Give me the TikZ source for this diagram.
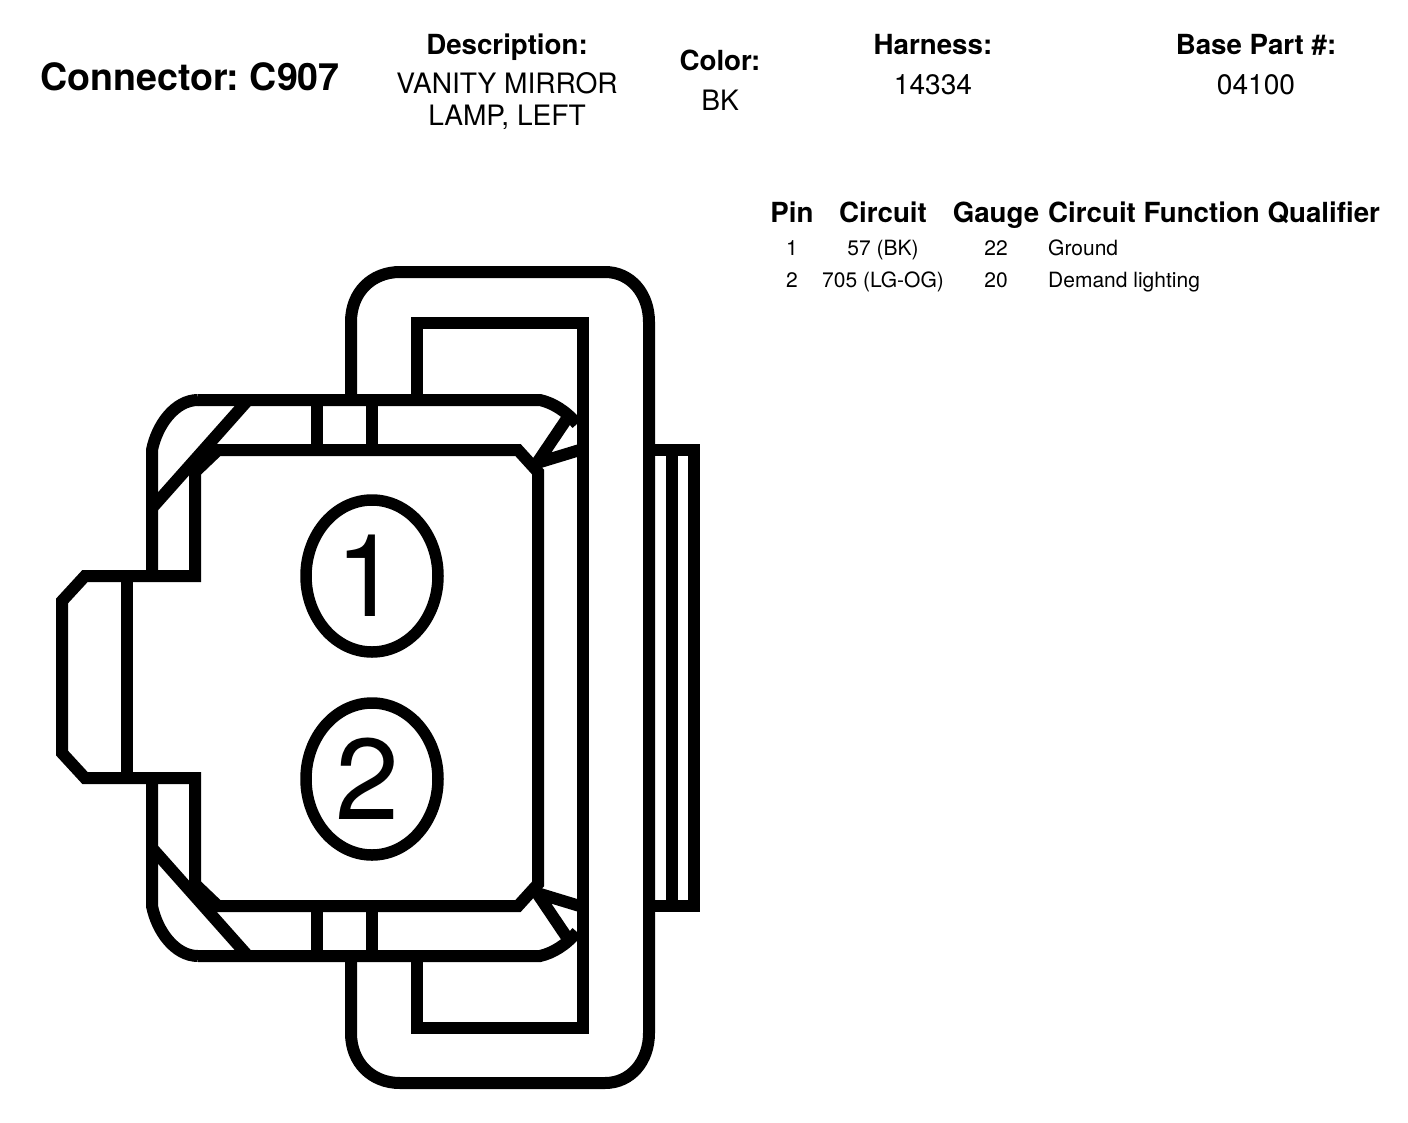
\documentclass[tikz,border=0pt]{standalone}
\usepackage{fontspec}
\setmainfont{TeX Gyre Heros}
\frenchspacing
\tikzset{
    outline/.style={line width=12pt, line join=miter},
    pinmark/.style={draw, line width=11.5pt, ellipse, minimum width=132pt, minimum height=152pt, inner sep=0pt, font=\fontsize{115}{115}\selectfont},
    title/.style={anchor=base, font=\bfseries\fontsize{37.6}{37.6}\selectfont},
    head/.style={anchor=base, font=\bfseries\fontsize{27.7}{27.7}\selectfont},
    info/.style={font=\fontsize{28.1}{32}\selectfont, align=center},
    cell/.style={anchor=base, font=\fontsize{21}{21}\selectfont},
}
\usetikzlibrary{shapes.geometric}
\begin{document}
\begin{tikzpicture}[x=1pt,y=-1pt]
        \useasboundingbox (0,0) rectangle (1408,1122);
        % header
        \node[title] (conn) at (190,90) {Connector: C907};
        \node[head] (deschead) at (507,54) {Description:};
        \node[info] (desc) at (507,101) {VANITY MIRROR\\LAMP, LEFT};
        \node[head] (colorhead) at (720,70) {Color:};
        \node[info] (color) at (720,100) {BK};
        \node[head] (harnhead) at (933,54) {Harness:};
        \node[info] (harn) at (933,85) {14334};
        \node[head] (basehead) at (1256,54) {Base Part \#:};
        \node[info] (base) at (1256,85) {04100};
        % pin table
        \node[head] (pinhead) at (792,222) {Pin};
        \node[head] (circhead) at (883,222) {Circuit};
        \node[head] (gaugehead) at (996,222) {Gauge};
        \node[head, anchor=base west, inner sep=0pt] (funchead) at (1048,222) {Circuit Function Qualifier};
        \node[cell] (pin1) at (792,255) {1};
        \node[cell] (circ1) at (883,255) {57 (BK)};
        \node[cell] (gauge1) at (996,255) {22};
        \node[cell, anchor=base west, inner sep=0pt] (func1) at (1048,255) {Ground};
        \node[cell] (pin2) at (792,287) {2};
        \node[cell] (circ2) at (883,287) {705 (LG-OG)};
        \node[cell] (gauge2) at (996,287) {20};
        \node[cell, anchor=base west, inner sep=0pt] (func2) at (1048,287) {Demand lighting};
        % latch loop
        \draw[outline] (351,400) -- (351,322) .. controls (351,292) and (372,272) .. (400,272) -- (605,272) .. controls (631,272) and (649,294) .. (649,322) -- (649,1033) .. controls (649,1061) and (631,1083) .. (605,1083) -- (400,1083) .. controls (372,1083) and (351,1063) .. (351,1033) -- (351,955);
        \draw[outline] (417,400) -- (417,323) -- (583,323) -- (583,1028) -- (417,1028) -- (417,955);
        % body
        \draw[outline] (198,400) -- (540,400) .. controls (553,403) and (566,411) .. (577,424);
        \draw[outline] (198,400) .. controls (175,400) and (157,425) .. (152,450) -- (152,576);
        \draw[outline] (198,956) -- (540,956) .. controls (553,953) and (566,945) .. (577,932);
        \draw[outline] (198,956) .. controls (175,956) and (157,931) .. (152,906) -- (152,778);
        \draw[outline] (248,400) -- (152,508);
        \draw[outline] (248,956) -- (152,848);
        \draw[outline] (85,576) -- (195,576) -- (195,472) -- (218,450) -- (518,450) -- (538,472) -- (538,884) -- (518,906) -- (218,906) -- (195,884) -- (195,778) -- (85,778) -- (62,753) -- (62,601) -- cycle;
        \draw[outline] (127,576) -- (127,778);
        \draw[outline] (317,400) -- (317,450);
        \draw[outline] (372,400) -- (372,450);
        \draw[outline] (317,906) -- (317,956);
        \draw[outline] (372,906) -- (372,956);
        % clips
        \draw[outline, line join=bevel] (566,420) -- (537,463) -- (583,449);
        \draw[outline, line join=bevel] (566,936) -- (537,893) -- (583,907);
        % right tab
        \draw[outline] (649,450) -- (694,450) -- (694,906) -- (649,906);
        \draw[outline] (672,450) -- (672,906);
        % pins
        \node[pinmark] (one) at (372,576) {\kern-9pt 1};
        \node[pinmark] (two) at (372,779) {\kern-9pt 2};
    \end{tikzpicture}
\end{document}
